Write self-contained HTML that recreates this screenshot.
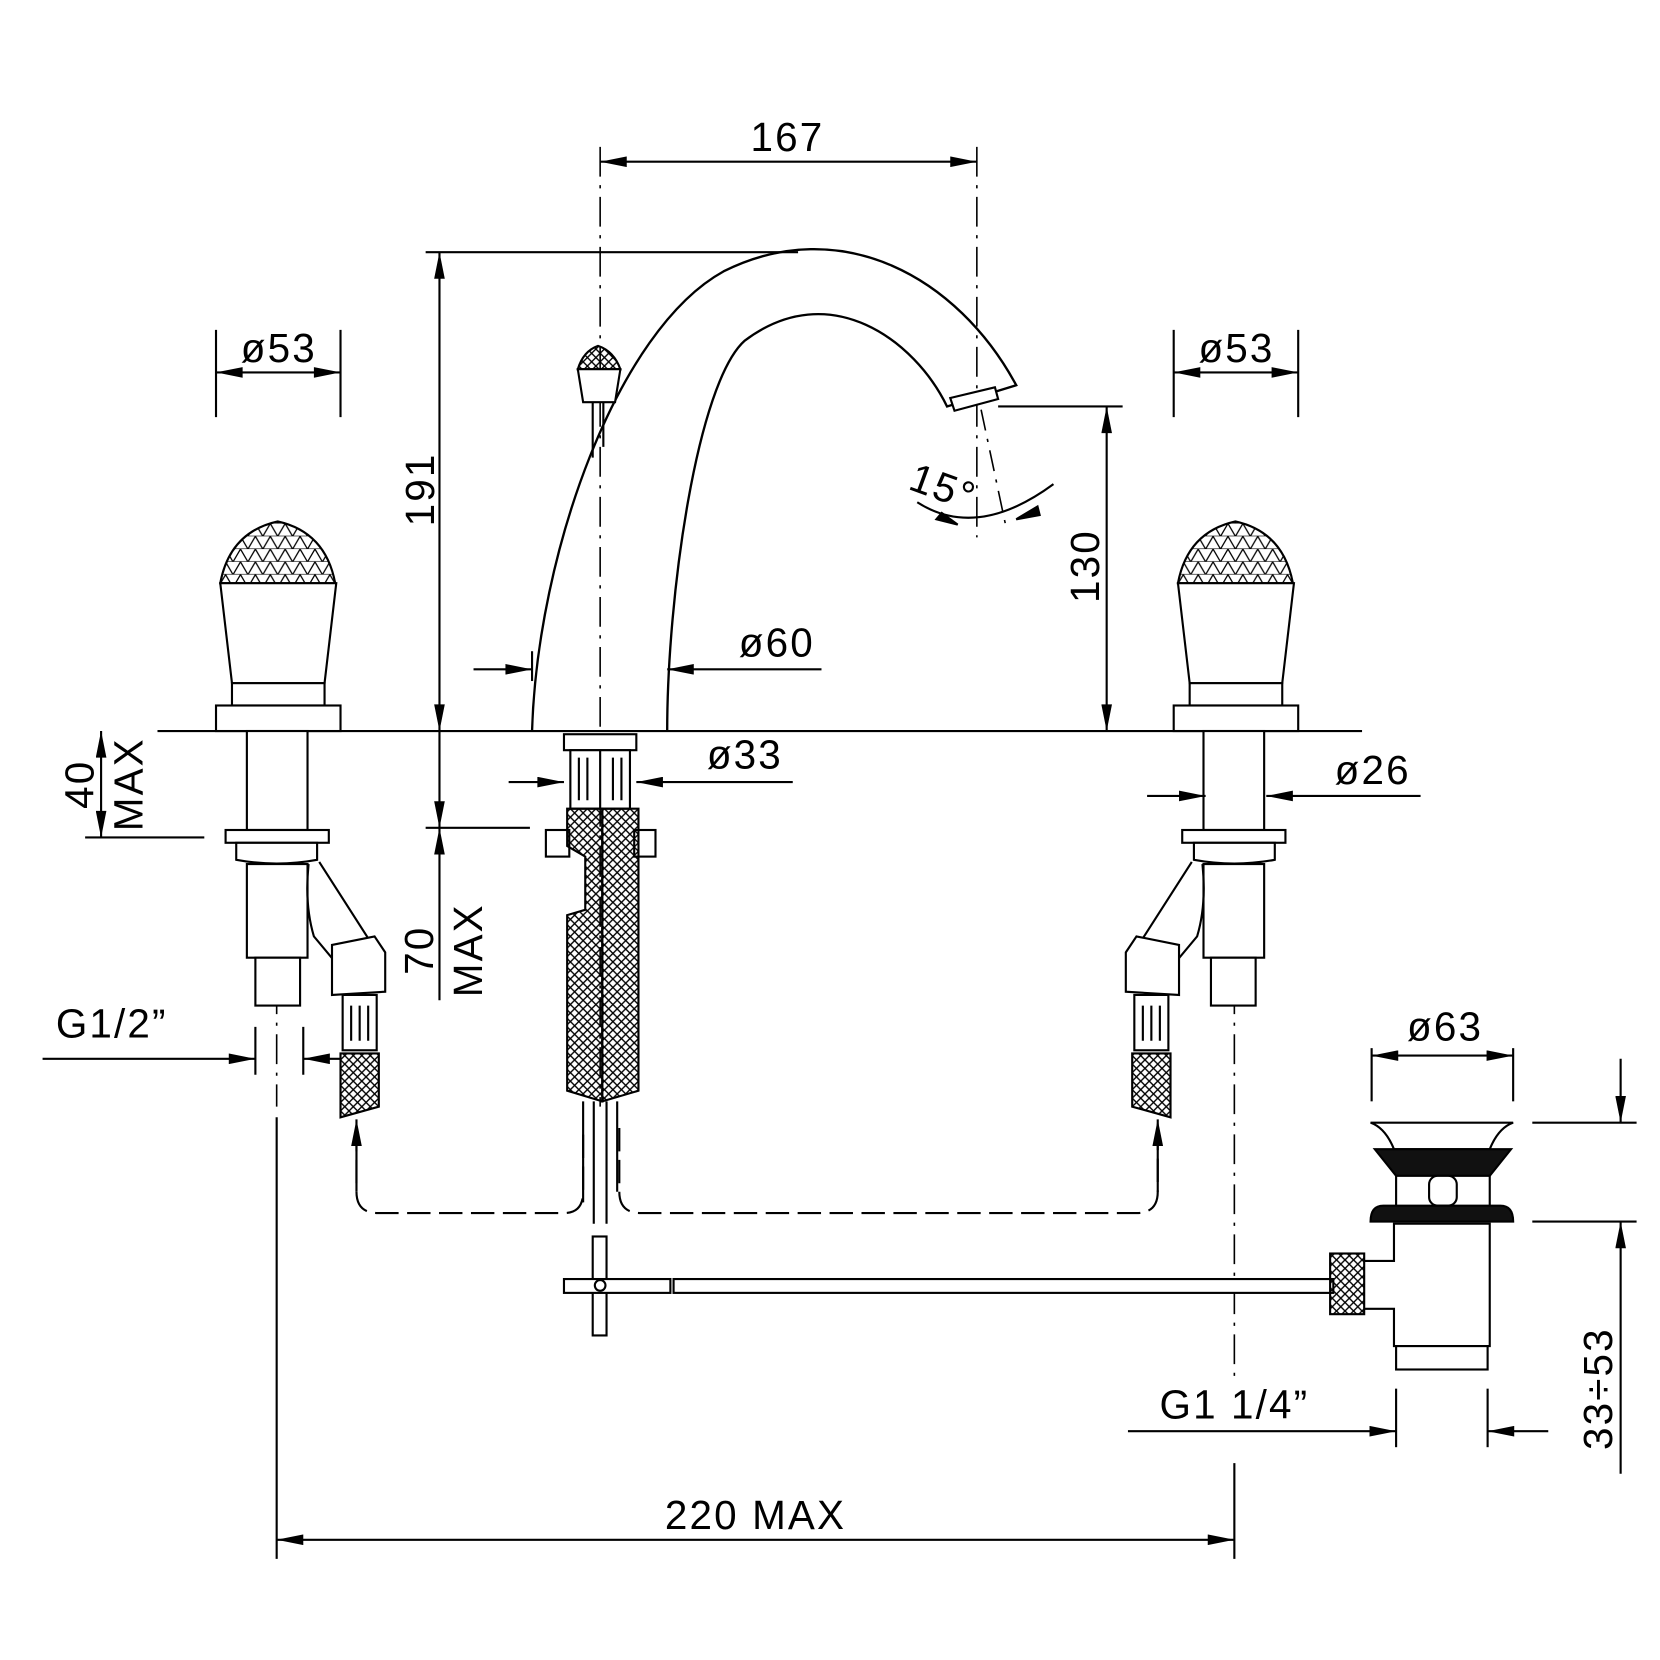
<!DOCTYPE html>
<html><head><meta charset="utf-8"><style>
html,body{margin:0;padding:0;background:#fff}
svg{display:block}
text{font-family:"Liberation Sans",sans-serif;font-size:38px;fill:#000;letter-spacing:2px}
</style></head><body>
<svg width="1660" height="1660" viewBox="0 0 1560 1560" xmlns="http://www.w3.org/2000/svg">
<defs>
<marker id="a" viewBox="0 0 20 8" refX="20" refY="4" markerWidth="26" markerHeight="10" markerUnits="userSpaceOnUse" orient="auto-start-reverse"><path d="M0,0 L20,4 L0,8 Z" fill="#000"/></marker>
<pattern id="h" width="8" height="8" patternUnits="userSpaceOnUse"><path d="M0,0 L8,8 M8,0 L0,8" stroke="#000" stroke-width="1.3"/></pattern>
<pattern id="c" width="14" height="12" patternUnits="userSpaceOnUse"><path d="M0,12 L7,0 L14,12 M0,12 H14" stroke="#000" stroke-width="1.2" fill="none"/></pattern>
<g id="handle">
 <path d="M-54,548 Q-45,500 0,490 Q45,500 54,548 Z" fill="url(#c)" stroke="#000" stroke-width="2"/>
 <path d="M-54,548 L-43,642 L44,642 L55,548 Z" fill="#fff" stroke="#000" stroke-width="2"/>
 <rect x="-43" y="642" width="87" height="21" fill="#fff" stroke="#000" stroke-width="2"/>
 <rect x="-58" y="663" width="117" height="24" fill="#fff" stroke="#000" stroke-width="2"/>
</g>
<g id="under">
 <rect x="-28" y="687" width="57" height="93" fill="#fff" stroke="#000" stroke-width="2"/>
 <rect x="-48" y="780" width="97" height="12" fill="#fff" stroke="#000" stroke-width="2"/>
 <path d="M-38,792 H38 V808 Q0,815 -38,808 Z" fill="#fff" stroke="#000" stroke-width="2"/>
 <rect x="-28" y="812" width="57" height="88" fill="#fff" stroke="#000" stroke-width="2"/>
 <rect x="-20" y="900" width="42" height="45" fill="#fff" stroke="#000" stroke-width="2"/>
 <path d="M30,812 Q26,850 35,880 L60,910 M40,810 L90,888" fill="none" stroke="#000" stroke-width="2"/>
 <path d="M52,888 L92,880 L102,895 L102,932 L52,935 Z" fill="#fff" stroke="#000" stroke-width="2"/>
 <rect x="62" y="935" width="32" height="52" fill="#fff" stroke="#000" stroke-width="2"/>
 <path d="M70,945 V978 M78,945 V978 M86,945 V978" stroke="#000" stroke-width="2"/>
 <path d="M60,990 H96 V1040 L60,1050 Z" fill="url(#h)" stroke="#000" stroke-width="2"/>
</g>
</defs>
<g fill="none" stroke="#000" stroke-width="2">
<line x1="148" y1="687" x2="1280" y2="687"/>
<line x1="564" y1="138" x2="564" y2="1040" stroke-dasharray="28,8,3,8" stroke-width="1.5"/>
<line x1="918" y1="138" x2="918" y2="505" stroke-dasharray="28,8,3,8" stroke-width="1.5"/>
<line x1="260" y1="690" x2="260" y2="1040" stroke-dasharray="28,8,3,8" stroke-width="1.5"/>
<line x1="1160" y1="690" x2="1160" y2="1300" stroke-dasharray="28,8,3,8" stroke-width="1.5"/>
<line x1="922" y1="385" x2="946" y2="498" stroke-dasharray="20,8,3,8" stroke-width="1.5"/>
<line x1="564" y1="152" x2="918" y2="152" marker-start="url(#a)" marker-end="url(#a)"/>
<line x1="400" y1="237" x2="750" y2="237"/>
<line x1="413" y1="237" x2="413" y2="687" marker-start="url(#a)" marker-end="url(#a)"/>
<line x1="400" y1="778" x2="498" y2="778"/>
<line x1="413" y1="687" x2="413" y2="778" marker-end="url(#a)"/>
<line x1="413" y1="940" x2="413" y2="778" marker-end="url(#a)"/>
<path d="M500,687 C505,520 580,310 680,255 C790,200 900,260 955,362 L890,382 C860,320 780,260 700,320 C655,360 627,560 627,687" stroke-width="2.2"/>
<path d="M893,374 L935,364 L938,375 L897,386 Z" fill="#fff"/>
<path d="M862,472 Q918,508 990,455"/>
<path d="M900,493 L880,488 L885,482 Z M955,488 L975,476 L977,484 Z" fill="#000"/>
<line x1="938" y1="382" x2="1055" y2="382"/>
<line x1="1040" y1="382" x2="1040" y2="687" marker-start="url(#a)" marker-end="url(#a)"/>
<line x1="445" y1="629" x2="500" y2="629" marker-end="url(#a)"/>
<line x1="772" y1="629" x2="627" y2="629" marker-end="url(#a)"/>
<line x1="500" y1="612" x2="500" y2="640"/>
<path d="M543,347 Q548,330 562,325 Q577,330 583,347 Z" fill="url(#h)"/>
<path d="M543,347 L548,378 L578,378 L583,347 Z" fill="#fff"/>
<path d="M557,378 V430 M567,378 V420"/>
<use href="#handle" x="261"/>
<use href="#handle" x="1161"/>
<use href="#under" x="260"/>
<use href="#under" x="1160" transform="translate(2320,0) scale(-1,1)"/>
<line x1="203" y1="310" x2="203" y2="392"/><line x1="320" y1="310" x2="320" y2="392"/>
<line x1="203" y1="350" x2="320" y2="350" marker-start="url(#a)" marker-end="url(#a)"/>
<line x1="1103" y1="310" x2="1103" y2="392"/><line x1="1220" y1="310" x2="1220" y2="392"/>
<line x1="1103" y1="350" x2="1220" y2="350" marker-start="url(#a)" marker-end="url(#a)"/>
<line x1="80" y1="787" x2="192" y2="787"/>
<line x1="95" y1="687" x2="95" y2="787" marker-start="url(#a)" marker-end="url(#a)"/>
<line x1="240" y1="965" x2="240" y2="1010"/><line x1="285" y1="965" x2="285" y2="1010"/>
<line x1="40" y1="995" x2="240" y2="995" marker-end="url(#a)"/>
<line x1="320" y1="995" x2="285" y2="995" marker-end="url(#a)"/>
<rect x="530" y="690" width="68" height="15" fill="#fff"/>
<rect x="536" y="705" width="56" height="55" fill="#fff"/>
<path d="M544,712 V752 M552,712 V752 M576,712 V752 M584,712 V752 M564,705 V760"/>
<line x1="478" y1="735" x2="530" y2="735" marker-end="url(#a)"/>
<line x1="745" y1="735" x2="598" y2="735" marker-end="url(#a)"/>
<rect x="513" y="780" width="22" height="25" fill="#fff"/>
<rect x="596" y="780" width="20" height="25" fill="#fff"/>
<path d="M533,760 H566 V1035 L533,1025 V860 L550,855 V805 L533,795 Z" fill="url(#h)"/>
<path d="M566,760 H600 V1025 L566,1035 Z" fill="url(#h)"/>
<path d="M548,1035 V1130 M558,1035 V1150 M570,1035 V1150 M580,1035 V1120"/>
<path d="M335,1060 V1120 Q335,1140 355,1140 H530 Q548,1140 548,1120 V1060" stroke-dasharray="22,8"/>
<path d="M582,1060 V1120 Q582,1140 602,1140 H1068 Q1088,1140 1088,1120 V1060" stroke-dasharray="22,8"/>
<line x1="335" y1="1120" x2="335" y2="1052" marker-end="url(#a)"/>
<line x1="1088" y1="1120" x2="1088" y2="1052" marker-end="url(#a)"/>
<rect x="557" y="1162" width="13" height="93" fill="#fff"/>
<rect x="530" y="1202" width="100" height="13" fill="#fff"/>
<circle cx="564" cy="1208" r="5"/>
<rect x="633" y="1202" width="620" height="13" fill="#fff"/>
<rect x="1250" y="1178" width="32" height="57" fill="url(#h)"/>
<path d="M1282,1185 H1310 V1150 H1400 V1265 H1310 V1230 H1282"/>
<rect x="1312" y="1265" width="86" height="22" fill="#fff"/>
<path d="M1288,1055 H1422 Q1408,1060 1400,1080 H1310 Q1302,1060 1288,1055 Z"/>
<path d="M1292,1080 H1420 L1400,1105 H1312 Z" fill="#111"/>
<path d="M1312,1105 V1133 M1400,1105 V1133"/>
<rect x="1343" y="1105" width="26" height="28" rx="8" fill="#fff"/>
<path d="M1288,1148 Q1288,1133 1300,1133 H1410 Q1422,1133 1422,1148 Z" fill="#111"/>
<line x1="1289" y1="985" x2="1289" y2="1035"/><line x1="1422" y1="985" x2="1422" y2="1035"/>
<line x1="1289" y1="992" x2="1422" y2="992" marker-start="url(#a)" marker-end="url(#a)"/>
<line x1="1440" y1="1055" x2="1538" y2="1055"/><line x1="1440" y1="1148" x2="1538" y2="1148"/>
<line x1="1523" y1="995" x2="1523" y2="1055" marker-end="url(#a)"/>
<line x1="1523" y1="1385" x2="1523" y2="1148" marker-end="url(#a)"/>
<line x1="1312" y1="1305" x2="1312" y2="1360"/><line x1="1398" y1="1305" x2="1398" y2="1360"/>
<line x1="1060" y1="1345" x2="1312" y2="1345" marker-end="url(#a)"/>
<line x1="1455" y1="1345" x2="1398" y2="1345" marker-end="url(#a)"/>
<line x1="1078" y1="748" x2="1133" y2="748" marker-end="url(#a)"/>
<line x1="1335" y1="748" x2="1190" y2="748" marker-end="url(#a)"/>
<line x1="260" y1="1050" x2="260" y2="1465"/>
<line x1="1160" y1="1375" x2="1160" y2="1465"/>
<line x1="260" y1="1447" x2="1160" y2="1447" marker-start="url(#a)" marker-end="url(#a)"/>
</g>
<g>
<text x="740" y="142" text-anchor="middle">167</text>
<text x="262" y="340" text-anchor="middle">ø53</text>
<text x="1162" y="340" text-anchor="middle">ø53</text>
<text transform="translate(408,460) rotate(-90)" text-anchor="middle">191</text>
<text transform="translate(1033,532) rotate(-90)" text-anchor="middle">130</text>
<text transform="translate(882,470) rotate(20)" text-anchor="middle">15°</text>
<text x="730" y="617" text-anchor="middle">ø60</text>
<text x="700" y="722" text-anchor="middle">ø33</text>
<text x="1290" y="737" text-anchor="middle">ø26</text>
<text transform="translate(88,737) rotate(-90)" text-anchor="middle">40</text>
<text transform="translate(134,737) rotate(-90)" text-anchor="middle">MAX</text>
<text transform="translate(407,893) rotate(-90)" text-anchor="middle">70</text>
<text transform="translate(453,893) rotate(-90)" text-anchor="middle">MAX</text>
<text x="105" y="975" text-anchor="middle">G1/2”</text>
<text x="1358" y="978" text-anchor="middle">ø63</text>
<text x="1160" y="1333" text-anchor="middle">G1  1/4”</text>
<text transform="translate(1515,1305) rotate(-90)" text-anchor="middle">33÷53</text>
<text x="710" y="1437" text-anchor="middle">220  MAX</text>
</g>
</svg>
</body></html>
